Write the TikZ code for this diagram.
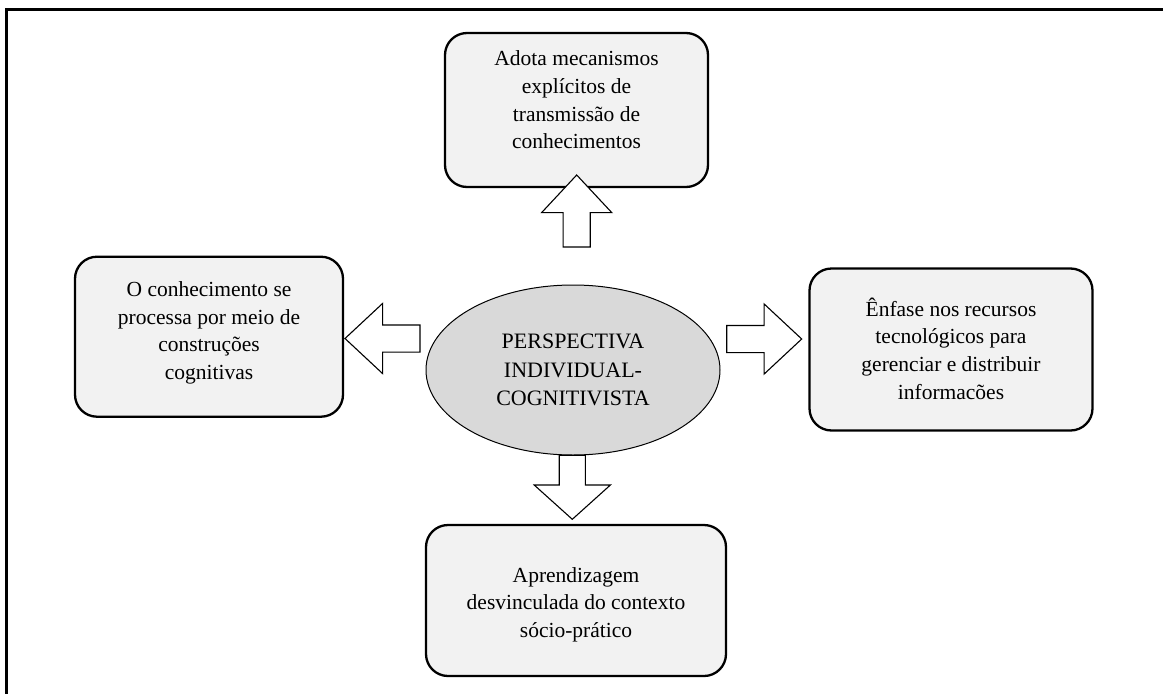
\documentclass[tikz,border=0pt]{standalone}
\usepackage{fontspec}
\setmainfont{Liberation Serif}
\usetikzlibrary{shapes.geometric,shapes.arrows}
\definecolor{boxfill}{HTML}{F2F2F2}
\definecolor{hubfill}{HTML}{D9D9D9}
\begin{document}
\begin{tikzpicture}[x=1pt,y=-1pt,
  box/.style={draw, line width=2.3pt, rounded corners=22pt, fill=boxfill,
    inner sep=0pt, outer sep=0pt},
  boxtext/.style={align=center, inner sep=0pt,
    font=\fontsize{21.5}{27.6}\selectfont},
  hub/.style={ellipse, draw, line width=1pt, fill=hubfill, inner sep=0pt,
    minimum width=294pt, minimum height=170pt, align=center,
    font=\fontsize{22}{28.5}\selectfont},
  blockarrow/.style={single arrow, draw, line width=1.1pt, fill=white,
    inner xsep=0pt, inner ysep=13pt, outer sep=0pt,
    single arrow head extend=21.5pt, single arrow tip angle=86}
]
\useasboundingbox (0,0) rectangle (1163,694);

% outer frame (right and bottom sides run past the page)
\draw[line width=3pt] (6.5,720) |- (1190,9.8);

% boxes
\node[box, minimum width=263pt, minimum height=154pt] (top) at (576.5,110) {};
\node[box, minimum width=268pt, minimum height=160pt] (left) at (209,336.7) {};
\node[box, minimum width=283pt, minimum height=162pt] (right) at (951,349.5) {};
\node[box, minimum width=300pt, minimum height=151pt] (bottom) at (576,600.5) {};

\node[boxtext, yshift=10pt] (top-t) at (top.center)
  {Adota mecanismos\\explícitos de\\transmissão de\\conhecimentos};
\node[boxtext, yshift=4pt] (left-t) at (left.center)
  {O conhecimento se\\processa por meio de\\construções\\cognitivas};
\node[boxtext, yshift=1pt] (right-t) at (right.center)
  {Ênfase nos recursos\\tecnológicos para\\gerenciar e distribuir\\informacões};
\node[boxtext, yshift=-4pt] (bottom-t) at (bottom.center)
  {Aprendizagem\\desvinculada do contexto\\sócio-prático};

% central ellipse
\node[hub] (hub) at (573,370) {PERSPECTIVA\\INDIVIDUAL-\\COGNITIVISTA};

% block arrows from the centre towards each box
\node[blockarrow, minimum height=72pt, rotate=90, anchor=tip] (aup) at (576.7,175) {};
\node[blockarrow, minimum height=75pt, rotate=180, anchor=tip] (aleft) at (345,338.5) {};
\node[blockarrow, minimum height=75pt, anchor=tip] (aright) at (801.7,339) {};
\node[blockarrow, minimum height=64pt, inner ysep=12.5pt,
  single arrow head extend=25pt, single arrow tip angle=96,
  rotate=-90, anchor=tip] (adown) at (572.3,519.3) {};
\end{tikzpicture}
\end{document}
